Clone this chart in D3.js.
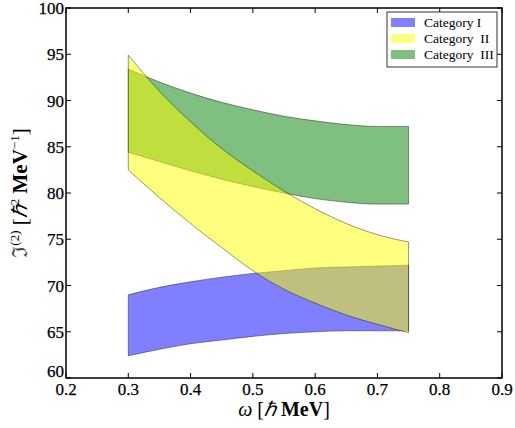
<!DOCTYPE html>
<html><head><meta charset="utf-8">
<script src="https://cdn.jsdelivr.net/npm/d3@7/dist/d3.min.js"></script>
<style>body{margin:0;background:#fff}svg{display:block}</style>
</head><body>
<script>
const omega = [0.30,0.35,0.40,0.45,0.50,0.55,0.60,0.65,0.70,0.75];
const cat1Low  = [62.4,63.1,63.7,64.1,64.5,64.8,65.0,65.1,65.1,65.1];
const cat1High = [69.0,69.8,70.4,70.9,71.3,71.6,71.9,72.0,72.1,72.2];
const cat2Low  = [82.5,79.5,76.7,74.1,71.6,69.6,68.1,66.8,65.8,64.9];
const cat2High = [94.9,91.0,87.7,84.8,82.4,80.2,78.3,76.7,75.5,74.7];
const cat3Low  = [84.4,83.4,82.4,81.5,80.7,80.0,79.4,79.0,78.8,78.8];
const cat3High = [93.4,92.0,90.8,89.8,89.0,88.3,87.8,87.4,87.2,87.2];
const categories = ["Category I","Category  II","Category  III"];
const colors = ["#0000ff","#ffff00","#008000"];
const xTicks = [0.2,0.3,0.4,0.5,0.6,0.7,0.8,0.9];
const yTicks = [60,65,70,75,80,85,90,95,100];

const FONT="Liberation Serif";
const W=515,H=428, m={l:66,r:13,t:8,b:50};
const svg=d3.select("body").append("svg").attr("width",W).attr("height",H);
const x=d3.scaleLinear().domain([0.2,0.9]).range([m.l,W-m.r]);
const y=d3.scaleLinear().domain([60,100]).range([H-m.b,m.t]);

const bands=[
  {lo:cat1Low,hi:cat1High,c:colors[0]},
  {lo:cat3Low,hi:cat3High,c:colors[2]},
  {lo:cat2Low,hi:cat2High,c:colors[1]}
];
bands.forEach(b=>{
  const pts=omega.map((w,i)=>({w,lo:b.lo[i],hi:b.hi[i]}));
  const area=d3.area().x(d=>x(d.w)).y0(d=>y(d.lo)).y1(d=>y(d.hi)).curve(d3.curveMonotoneX);
  svg.append("path").attr("d",area(pts))
    .attr("fill",b.c).attr("fill-opacity",0.5)
    .attr("stroke","#000").attr("stroke-opacity",0.45).attr("stroke-width",0.9);
});
const g=svg.append("g");
g.append("rect").attr("x",m.l).attr("y",m.t).attr("width",W-m.r-m.l).attr("height",H-m.b-m.t)
  .attr("fill","none").attr("stroke","#000").attr("stroke-width",1.5);
const tl=5;
xTicks.forEach(t=>{
  g.append("line").attr("x1",x(t)).attr("x2",x(t)).attr("y1",H-m.b).attr("y2",H-m.b-tl).attr("stroke","#000");
  g.append("line").attr("x1",x(t)).attr("x2",x(t)).attr("y1",m.t).attr("y2",m.t+tl).attr("stroke","#000");
  g.append("text").attr("x",x(t)).attr("y",H-m.b+17).attr("text-anchor","middle")
    .attr("font-size",17).attr("font-family",FONT).attr("stroke","#000").attr("stroke-width",0.25).text(t.toFixed(1));
});
yTicks.forEach(t=>{
  g.append("line").attr("x1",m.l).attr("x2",m.l+tl).attr("y1",y(t)).attr("y2",y(t)).attr("stroke","#000");
  g.append("line").attr("x1",W-m.r).attr("x2",W-m.r-tl).attr("y1",y(t)).attr("y2",y(t)).attr("stroke","#000");
  g.append("text").attr("x",m.l-2).attr("y",y(t)+(t===60?-1:6)).attr("text-anchor","end")
    .attr("font-size",17).attr("font-family",FONT).attr("stroke","#000").attr("stroke-width",0.25).text(t);
});
const xl=svg.append("text").attr("x",(m.l+W-m.r)/2).attr("y",416).attr("text-anchor","middle")
  .attr("font-size",20).attr("font-family",FONT);
xl.append("tspan").attr("font-style","italic").text("ω ");
xl.append("tspan").text("[");
xl.append("tspan").attr("font-style","italic").text("ℏ ");
xl.append("tspan").attr("font-weight","bold").text("MeV");
xl.append("tspan").text("]");
const yl=svg.append("text").attr("transform",`translate(27,${(m.t+H-m.b)/2}) rotate(-90)`)
  .attr("text-anchor","middle").attr("font-size",21).attr("font-family",FONT);
yl.append("tspan").attr("fill","#444").text("ℑ");
yl.append("tspan").attr("font-size",13).attr("dy",-8).text("(2)");
yl.append("tspan").attr("dy",8).text(" [");
yl.append("tspan").attr("font-style","italic").text("ℏ");
yl.append("tspan").attr("font-size",13).attr("dy",-8).text("2");
yl.append("tspan").attr("dy",8).attr("font-weight","bold").text(" MeV");
yl.append("tspan").attr("font-size",13).attr("dy",-8).text("−1");
yl.append("tspan").attr("dy",8).text("]");
const lg=svg.append("g");
lg.append("rect").attr("x",387).attr("y",12).attr("width",110).attr("height",55)
  .attr("fill","#fff").attr("stroke","#000").attr("stroke-width",0.8);
categories.forEach((c,i)=>{
  const yy=23+i*16;
  lg.append("rect").attr("x",391).attr("y",yy-5).attr("width",24).attr("height",9)
    .attr("fill",colors[i]).attr("fill-opacity",0.5);
  lg.append("text").attr("x",424).attr("y",yy+4).attr("font-size",13.5)
    .attr("font-family",FONT).style("white-space","pre").text(c);
});
</script>
</body></html>
